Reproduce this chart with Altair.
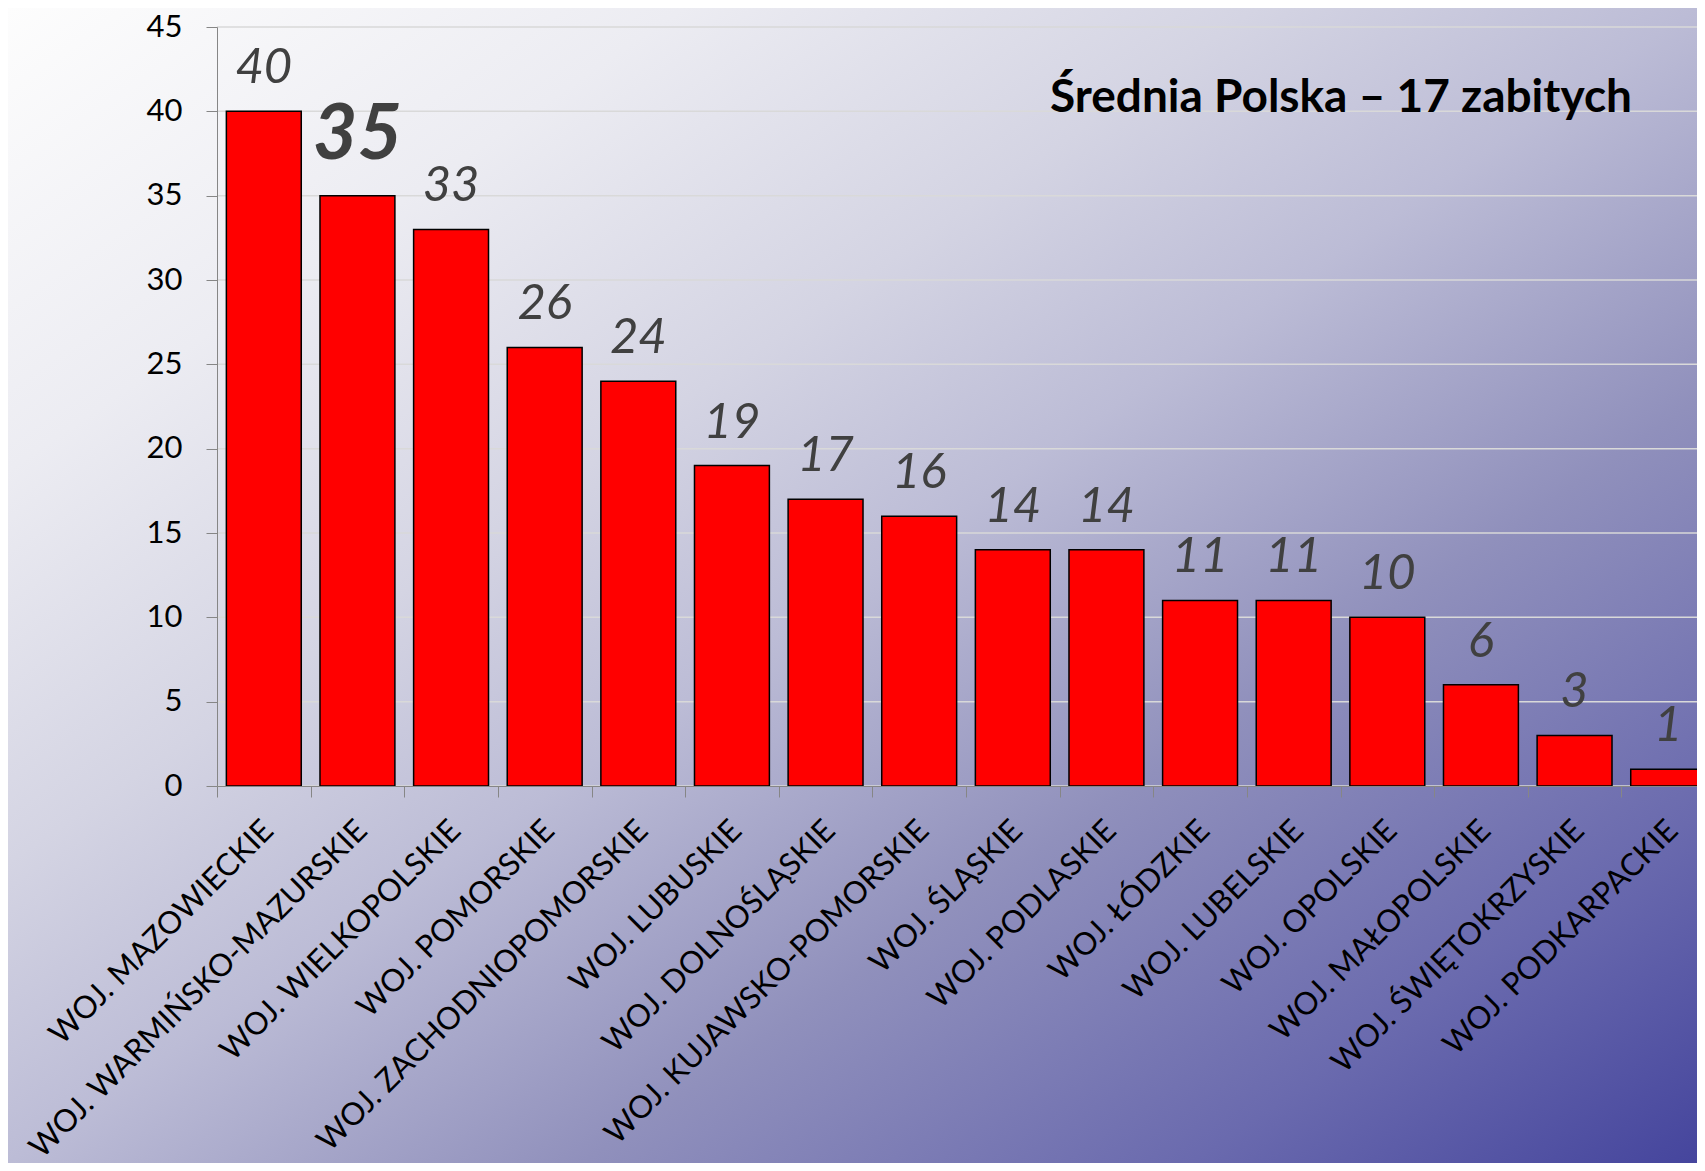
import altair as alt
import pandas as pd

categories = [
    "WOJ. MAZOWIECKIE", "WOJ. WARMIŃSKO-MAZURSKIE", "WOJ. WIELKOPOLSKIE",
    "WOJ. POMORSKIE", "WOJ. ZACHODNIOPOMORSKIE", "WOJ. LUBUSKIE",
    "WOJ. DOLNOŚLĄSKIE", "WOJ. KUJAWSKO-POMORSKIE", "WOJ. ŚLĄSKIE",
    "WOJ. PODLASKIE", "WOJ. ŁÓDZKIE", "WOJ. LUBELSKIE", "WOJ. OPOLSKIE",
    "WOJ. MAŁOPOLSKIE", "WOJ. ŚWIĘTOKRZYSKIE", "WOJ. PODKARPACKIE",
]
values = [40, 35, 33, 26, 24, 19, 17, 16, 14, 14, 11, 11, 10, 6, 3, 1]
highlight = "WOJ. WARMIŃSKO-MAZURSKIE"
y_ticks = [0, 5, 10, 15, 20, 25, 30, 35, 40, 45]
title_text = ["Średnia Polska – 17 zabitych"]

W, H = 1476, 759
PAD_L, PAD_T, PAD_R, PAD_B = 209, 19, 4, 377
FONT = "Lato"
AXIS_GRAY = "#868686"

df = pd.DataFrame({"cat": categories, "val": values})

x_enc = alt.X(
    "cat:N",
    sort=None,
    scale=alt.Scale(domain=categories, range=[0, 1498], paddingInner=0, paddingOuter=0),
    axis=alt.Axis(
        title=None, labelAngle=-45, labelAlign="right", labelBaseline="top",
        labelFont=FONT, labelFontSize=31, labelColor="black", labelPadding=18,
        labelOffset=-6, labelLimit=2000, labelOverlap=False, tickBand="extent",
        tickSize=11, tickColor=AXIS_GRAY, domainColor=AXIS_GRAY, zindex=1,
    ),
)
y_enc = alt.Y(
    "val:Q",
    scale=alt.Scale(domain=[0, 45], nice=False, zero=True),
    axis=alt.Axis(
        title=None, values=y_ticks, grid=False, tickSize=11, tickColor=AXIS_GRAY,
        domainColor=AXIS_GRAY, labelFont=FONT, labelFontSize=31, labelColor="black",
        labelPadding=24, zindex=1,
    ),
)

gradient = alt.LinearGradient(
    gradient="linear",
    stops=[
        alt.GradientStop(color="#fdfdfd", offset=0),
        alt.GradientStop(color="#ececf2", offset=0.2),
        alt.GradientStop(color="#d4d4e3", offset=0.37),
        alt.GradientStop(color="#bcbcd6", offset=0.5),
        alt.GradientStop(color="#9090bc", offset=0.67),
        alt.GradientStop(color="#6a6aae", offset=0.85),
        alt.GradientStop(color="#45459d", offset=1),
    ],
    x1=0, y1=0, x2=1, y2=1,
)

bg = alt.Chart(pd.DataFrame({"a": [0]})).mark_rect(color=gradient).encode(
    x=alt.value(-PAD_L), x2=alt.value(W + PAD_R),
    y=alt.value(-PAD_T), y2=alt.value(H + PAD_B),
)

grid = alt.Chart(pd.DataFrame({"val": y_ticks})).mark_rule(
    color="#d9d9d9", strokeWidth=1.5
).encode(y=y_enc, x=alt.value(0), x2=alt.value(W + PAD_R))

bars = alt.Chart(df).mark_bar(
    width={"band": 0.8}, color="#ff0000", stroke="black", strokeWidth=1.5
).encode(x=x_enc, y=y_enc)

labels = alt.Chart(df).transform_filter(alt.datum.cat != highlight).mark_text(
    font=FONT, fontStyle="italic", fontSize=49, color="#404040",
    dy=-28, baseline="alphabetic", align="center",
).encode(x=x_enc, y=y_enc, text=alt.Text("val:Q"))

hl = alt.Chart(df).transform_filter(alt.datum.cat == highlight).mark_text(
    font=FONT, fontStyle="italic", fontWeight="bold", fontSize=77, color="#404040",
    dy=-37, baseline="alphabetic", align="center",
).encode(x=x_enc, y=y_enc, text=alt.Text("val:Q"))

title = alt.Chart(pd.DataFrame({"t": title_text})).mark_text(
    font=FONT, fontWeight="bold", fontSize=46, color="black",
    align="center", baseline="alphabetic",
).encode(x=alt.value(1124), y=alt.value(85), text="t:N")

chart = alt.layer(bg, grid, bars, labels, hl, title).properties(
    width=W, height=H,
    padding={"left": PAD_L, "top": PAD_T, "right": PAD_R, "bottom": PAD_B},
    autosize=alt.AutoSizeParams(type="none"),
).configure_view(stroke=None)

chart.save("out.html", embed_options={"renderer": "svg", "actions": False})
